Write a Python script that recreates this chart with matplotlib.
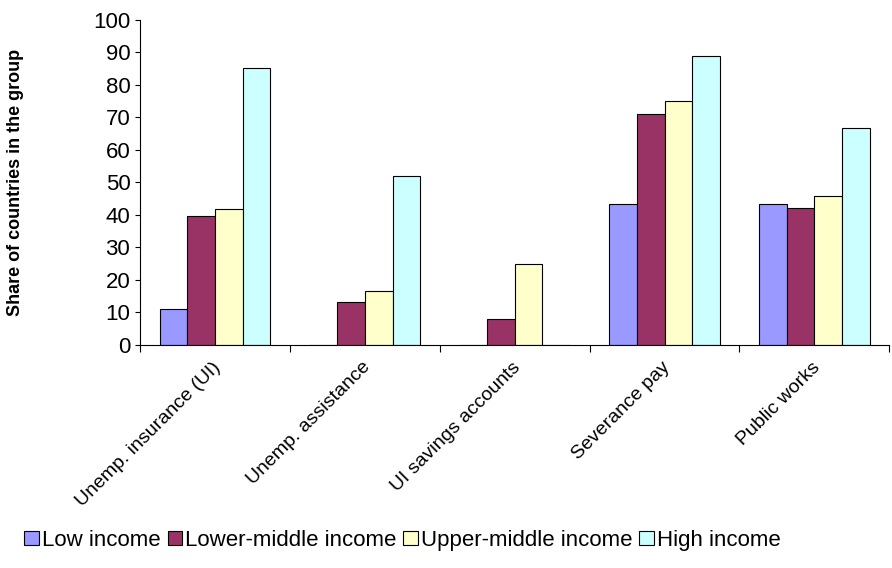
import matplotlib
matplotlib.use("Agg")
import matplotlib.pyplot as plt
import numpy as np

plt.rcParams["font.family"] = ["Liberation Sans", "DejaVu Sans"]

categories = ["Unemp. insurance (UI)", "Unemp. assistance", "UI savings accounts", "Severance pay", "Public works"]
series_names = ["Low income", "Lower-middle income", "Upper-middle income", "High income"]
low = [11.1, 0, 0, 43.3, 43.3]
lower_mid = [39.5, 13.2, 7.9, 71.1, 42.1]
upper_mid = [41.7, 16.7, 25.0, 75.0, 45.8]
high = [85.2, 51.9, 0, 88.9, 66.7]
colors = ["#9999FF", "#993366", "#FFFFCC", "#CCFFFF"]

fig = plt.figure(figsize=(8.92, 5.68), dpi=100)
ax = fig.add_axes([0.157, 0.393, 0.84, 0.572])
x = np.arange(len(categories))
w = 0.185
for i, (vals, c, n) in enumerate(zip([low, lower_mid, upper_mid, high], colors, series_names)):
    ax.bar(x + (i - 1.5) * w, vals, w, color=c, edgecolor="black", linewidth=0.8, label=n)
ax.set_xlim(-0.5, len(categories) - 0.5)
ax.set_ylim(0, 100)
ax.set_yticks(range(0, 101, 10))
ax.tick_params(axis="y", labelsize=16, direction="out")
ax.set_xticks(np.arange(-0.5, len(categories), 1), minor=False)
ax.set_xticklabels([])
ax.set_xticks(x - 0.02, minor=True)
ax.set_xticklabels(categories, minor=True, rotation=45, ha="right", rotation_mode="anchor", fontsize=14)
ax.tick_params(axis="x", which="minor", length=0, pad=10)
ax.tick_params(axis="x", which="major", length=5)
for s in ["top", "right"]:
    ax.spines[s].set_visible(False)
ax.set_ylabel("Share of countries in the group", fontsize=13, fontweight="bold")
ax.yaxis.set_label_coords(-0.155, 0.5)
fig.legend(loc="lower left", bbox_to_anchor=(0.005, -0.005), ncol=4, frameon=False, fontsize=16,
           handlelength=0.65, handleheight=0.65, handletextpad=0.15, columnspacing=0.3)
fig.savefig("out.png", dpi=100)
